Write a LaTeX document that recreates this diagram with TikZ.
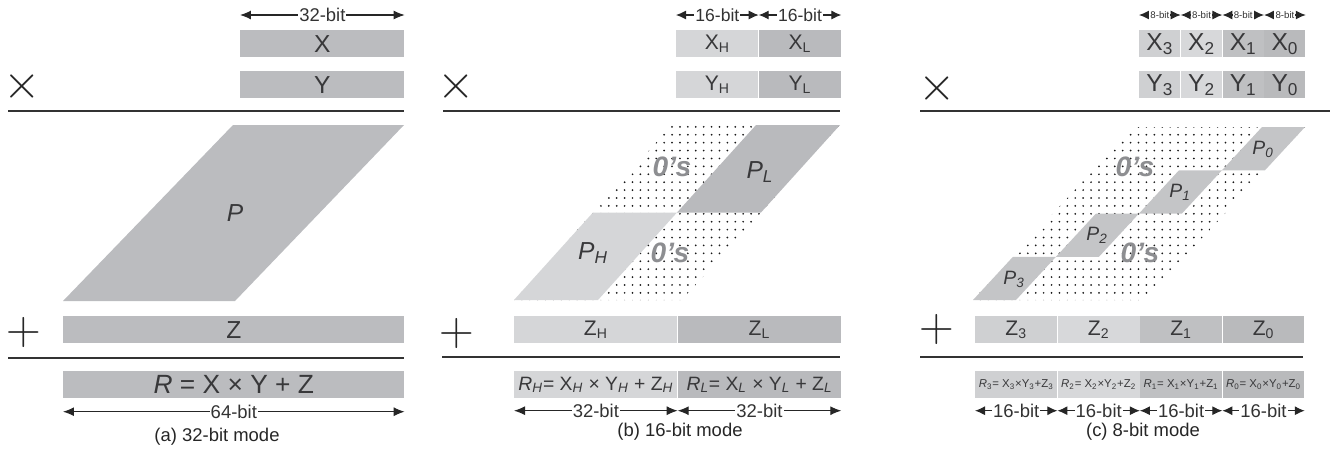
\documentclass[tikz,border=0pt]{standalone}
\usepackage{fontspec}
\setmainfont{Liberation Sans}
\usetikzlibrary{arrows.meta,positioning,patterns.meta}
\definecolor{bxgray}{HTML}{BBBCBF}
\definecolor{bxlight}{HTML}{D5D6D8}
\definecolor{bxdark}{HTML}{B9BABD}
\definecolor{cthree}{HTML}{CFD0D2}
\definecolor{ctwo}{HTML}{D7D8DA}
\definecolor{cone}{HTML}{BFC0C2}
\definecolor{czero}{HTML}{B9BABC}
\definecolor{pcgray}{HTML}{C4C5C7}
\definecolor{zerogray}{HTML}{8D8E91}
\definecolor{txtgray}{HTML}{38383A}

\begin{document}
\begin{tikzpicture}[x=0.02cm,y=-0.02cm,
  bx/.style={fill=#1,text=txtgray,inner sep=0pt,minimum height=5.4mm,anchor=north west,font=\fontsize{14}{14}\selectfont},
  midtxt/.style={font=\fontsize{12}{12}\selectfont},
  tinytxt/.style={font=\fontsize{6.5}{6.5}\selectfont},
  dim/.style={{Latex[length=2.2mm,width=1.8mm]}-{Latex[length=2.2mm,width=1.8mm]},line width=0.6pt,draw=black!85},
  sdim/.style={{Latex[length=2mm,width=1.8mm]}-{Latex[length=2mm,width=1.8mm]}},
  dimlbl/.style={fill=white,inner sep=0.6pt,text=black!80,font=\fontsize{10.5}{10.5}\selectfont},
  op/.style={inner sep=0pt,text=black!85,font=\Huge,scale=1.1,transform shape},
  rule/.style={line width=0.9pt,draw=black!80},
  dotfill/.style={pattern={Dots[distance=4.5pt,radius=0.55pt]},pattern color=black!90},
  plbl/.style={text=txtgray,font=\fontsize{14}{14}\selectfont\itshape},
  zlbl/.style={text=zerogray,font=\fontsize{16}{16}\selectfont\bfseries\itshape},
  caplbl/.style={text=black!85,font=\fontsize{10.5}{10.5}\selectfont}]
\useasboundingbox (0,0) rectangle (1333,451);

\node[bx=bxgray,minimum width=3.28cm] (xA) at (240,30) {X};
\node[bx=bxgray,minimum width=3.28cm] (yA) at (240,71) {Y};
\draw[dim] ([yshift=3mm]xA.north west) -- node[dimlbl]{32-bit} ([yshift=3mm]xA.north east);
\node[op] (mulA) at (22,86) {$\times$};
\draw[rule] (8,111) -- (404,111);
\fill[bxgray] (63,301) -- (233,125) -- (404,125) -- (235,301) -- cycle;
\node[plbl] (pA) at (235,213) {P};
\node[bx=bxgray,minimum width=6.82cm] (zA) at (63,316) {Z};
\node[op] (addA) at (24,332) {$+$};
\draw[rule] (8,358) -- (404,358);
\node[bx=bxgray,minimum width=6.82cm,font=\fontsize{15}{15}\selectfont] (rA) at (63,371) {\textit{R} = X × Y + Z};
\draw[dim] ([yshift=-2.6mm]rA.south west) -- node[dimlbl]{64-bit} ([yshift=-2.6mm]rA.south east);
\node[caplbl] (capA) at (217,437) {(a) 32-bit mode};

\node[bx=bxlight,midtxt,minimum width=1.64cm] (xBH) at (676,30) {X\textsubscript{H}};
\node[bx=bxdark,midtxt,minimum width=1.64cm,right=0pt of xBH] (xBL) {X\textsubscript{L}};
\node[bx=bxlight,midtxt,minimum width=1.64cm] (yBH) at (676,71) {Y\textsubscript{H}};
\node[bx=bxdark,midtxt,minimum width=1.64cm,right=0pt of yBH] (yBL) {Y\textsubscript{L}};
\draw[dim,sdim] ([yshift=3mm]xBH.north west) -- node[dimlbl,font=\fontsize{10}{10}\selectfont]{16-bit} ([yshift=3mm]xBH.north east);
\draw[dim,sdim] ([yshift=3mm]xBL.north west) -- node[dimlbl,font=\fontsize{10}{10}\selectfont]{16-bit} ([yshift=3mm]xBL.north east);
\node[op] (mulB) at (456,86) {$\times$};
\draw[rule] (443,111) -- (840,111);
\fill[dotfill] (514,300) -- (672,125) -- (840,125) -- (682,300) -- cycle;
\fill[bxdark] (677,212.5) -- (756,125) -- (840,125) -- (761,212.5) -- cycle;
\fill[bxlight] (514,300) -- (593,212.5) -- (677,212.5) -- (598,300) -- cycle;
\node[plbl] (pBL) at (760,172) {P\textsubscript{L}};
\node[plbl] (pBH) at (593,253) {P\textsubscript{H}};
\node[zlbl] (zeroB1) at (672,167) {0's};
\node[zlbl] (zeroB2) at (670,253) {0's};
\node[bx=bxlight,midtxt,minimum width=3.26cm] (zBH) at (514,316) {Z\textsubscript{H}};
\node[bx=bxdark,midtxt,minimum width=3.26cm,right=0pt of zBH] (zBL) {Z\textsubscript{L}};
\node[op] (addB) at (457,333) {$+$};
\draw[rule] (442,357) -- (840,357);
\node[bx=bxlight,minimum width=3.26cm,font=\fontsize{11}{11}\selectfont] (rBH) at (514,371) {\textit{R\textsubscript{H}}= X\textsubscript{\textit{H}} × Y\textsubscript{\textit{H}} + Z\textsubscript{\textit{H}}};
\node[bx=bxdark,minimum width=3.26cm,font=\fontsize{11}{11}\selectfont,right=0pt of rBH] (rBL) {\textit{R\textsubscript{L}}= X\textsubscript{\textit{L}} × Y\textsubscript{\textit{L}} + Z\textsubscript{\textit{L}}};
\draw[dim] ([yshift=-2.4mm]rBH.south west) -- node[dimlbl]{32-bit} ([yshift=-2.4mm]rBH.south east);
\draw[dim] ([yshift=-2.4mm]rBL.south west) -- node[dimlbl]{32-bit} ([yshift=-2.4mm]rBL.south east);
\node[caplbl] (capB) at (680,432) {(b) 16-bit mode};

\node[bx=cthree,minimum width=0.82cm] (xC3) at (1139,30) {X\textsubscript{3}};
\node[bx=ctwo,minimum width=0.82cm,right=0pt of xC3] (xC2) {X\textsubscript{2}};
\node[bx=cone,minimum width=0.82cm,right=0pt of xC2] (xC1) {X\textsubscript{1}};
\node[bx=czero,minimum width=0.82cm,right=0pt of xC1] (xC0) {X\textsubscript{0}};
\node[bx=cthree,minimum width=0.82cm] (yC3) at (1139,71) {Y\textsubscript{3}};
\node[bx=ctwo,minimum width=0.82cm,right=0pt of yC3] (yC2) {Y\textsubscript{2}};
\node[bx=cone,minimum width=0.82cm,right=0pt of yC2] (yC1) {Y\textsubscript{1}};
\node[bx=czero,minimum width=0.82cm,right=0pt of yC1] (yC0) {Y\textsubscript{0}};
\draw[dim,sdim] ([yshift=3mm]xC3.north west) -- node[dimlbl,font=\fontsize{5.5}{5.5}\selectfont]{8-bit} ([yshift=3mm]xC3.north east);
\draw[dim,sdim] ([yshift=3mm]xC2.north west) -- node[dimlbl,font=\fontsize{5.5}{5.5}\selectfont]{8-bit} ([yshift=3mm]xC2.north east);
\draw[dim,sdim] ([yshift=3mm]xC1.north west) -- node[dimlbl,font=\fontsize{5.5}{5.5}\selectfont]{8-bit} ([yshift=3mm]xC1.north east);
\draw[dim,sdim] ([yshift=3mm]xC0.north west) -- node[dimlbl,font=\fontsize{5.5}{5.5}\selectfont]{8-bit} ([yshift=3mm]xC0.north east);
\node[op] (mulC) at (937,88) {$\times$};
\draw[rule] (920,111) -- (1330,111);
\fill[dotfill] (973,300) -- (1133,127) -- (1305,127) -- (1145,300) -- cycle;
\fill[pcgray] (973,300) -- (1013,256.75) -- (1056,256.75) -- (1016,300) -- cycle;
\fill[pcgray] (1056,256.75) -- (1096,213.5) -- (1139,213.5) -- (1099,256.75) -- cycle;
\fill[pcgray] (1139,213.5) -- (1179,170.25) -- (1222,170.25) -- (1182,213.5) -- cycle;
\fill[pcgray] (1222,170.25) -- (1262,127) -- (1305,127) -- (1265,170.25) -- cycle;
\node[plbl,font=\fontsize{11}{11}\selectfont\itshape] (pC3) at (1014,279) {P\textsubscript{3}};
\node[plbl,font=\fontsize{11}{11}\selectfont\itshape] (pC2) at (1097,235) {P\textsubscript{2}};
\node[plbl,font=\fontsize{11}{11}\selectfont\itshape] (pC1) at (1180,192) {P\textsubscript{1}};
\node[plbl,font=\fontsize{11}{11}\selectfont\itshape] (pC0) at (1263,149) {P\textsubscript{0}};
\node[zlbl] (zeroC1) at (1135,167) {0's};
\node[zlbl] (zeroC2) at (1140,253) {0's};
\node[bx=cthree,midtxt,minimum width=1.635cm] (zC3) at (975,316) {Z\textsubscript{3}};
\node[bx=ctwo,midtxt,minimum width=1.635cm,right=0pt of zC3] (zC2) {Z\textsubscript{2}};
\node[bx=cone,midtxt,minimum width=1.635cm,right=0pt of zC2] (zC1) {Z\textsubscript{1}};
\node[bx=czero,midtxt,minimum width=1.635cm,right=0pt of zC1] (zC0) {Z\textsubscript{0}};
\node[op] (addC) at (937,329) {$+$};
\draw[rule] (920,357) -- (1303,357);
\node[bx=cthree,tinytxt,minimum width=1.635cm] (rC3) at (975,371) {\textit{R}\textsubscript{3}= X\textsubscript{3}×Y\textsubscript{3}+Z\textsubscript{3}};
\node[bx=ctwo,tinytxt,minimum width=1.635cm,right=0pt of rC3] (rC2) {\textit{R}\textsubscript{2}= X\textsubscript{2}×Y\textsubscript{2}+Z\textsubscript{2}};
\node[bx=cone,tinytxt,minimum width=1.635cm,right=0pt of rC2] (rC1) {\textit{R}\textsubscript{1}= X\textsubscript{1}×Y\textsubscript{1}+Z\textsubscript{1}};
\node[bx=czero,tinytxt,minimum width=1.635cm,right=0pt of rC1] (rC0) {\textit{R}\textsubscript{0}= X\textsubscript{0}×Y\textsubscript{0}+Z\textsubscript{0}};
\draw[dim,sdim] ([yshift=-2.4mm]rC3.south west) -- node[dimlbl]{16-bit} ([yshift=-2.4mm]rC3.south east);
\draw[dim,sdim] ([yshift=-2.4mm]rC2.south west) -- node[dimlbl]{16-bit} ([yshift=-2.4mm]rC2.south east);
\draw[dim,sdim] ([yshift=-2.4mm]rC1.south west) -- node[dimlbl]{16-bit} ([yshift=-2.4mm]rC1.south east);
\draw[dim,sdim] ([yshift=-2.4mm]rC0.south west) -- node[dimlbl]{16-bit} ([yshift=-2.4mm]rC0.south east);
\node[caplbl] (capC) at (1143,432) {(c) 8-bit mode};
\end{tikzpicture}
\end{document}
